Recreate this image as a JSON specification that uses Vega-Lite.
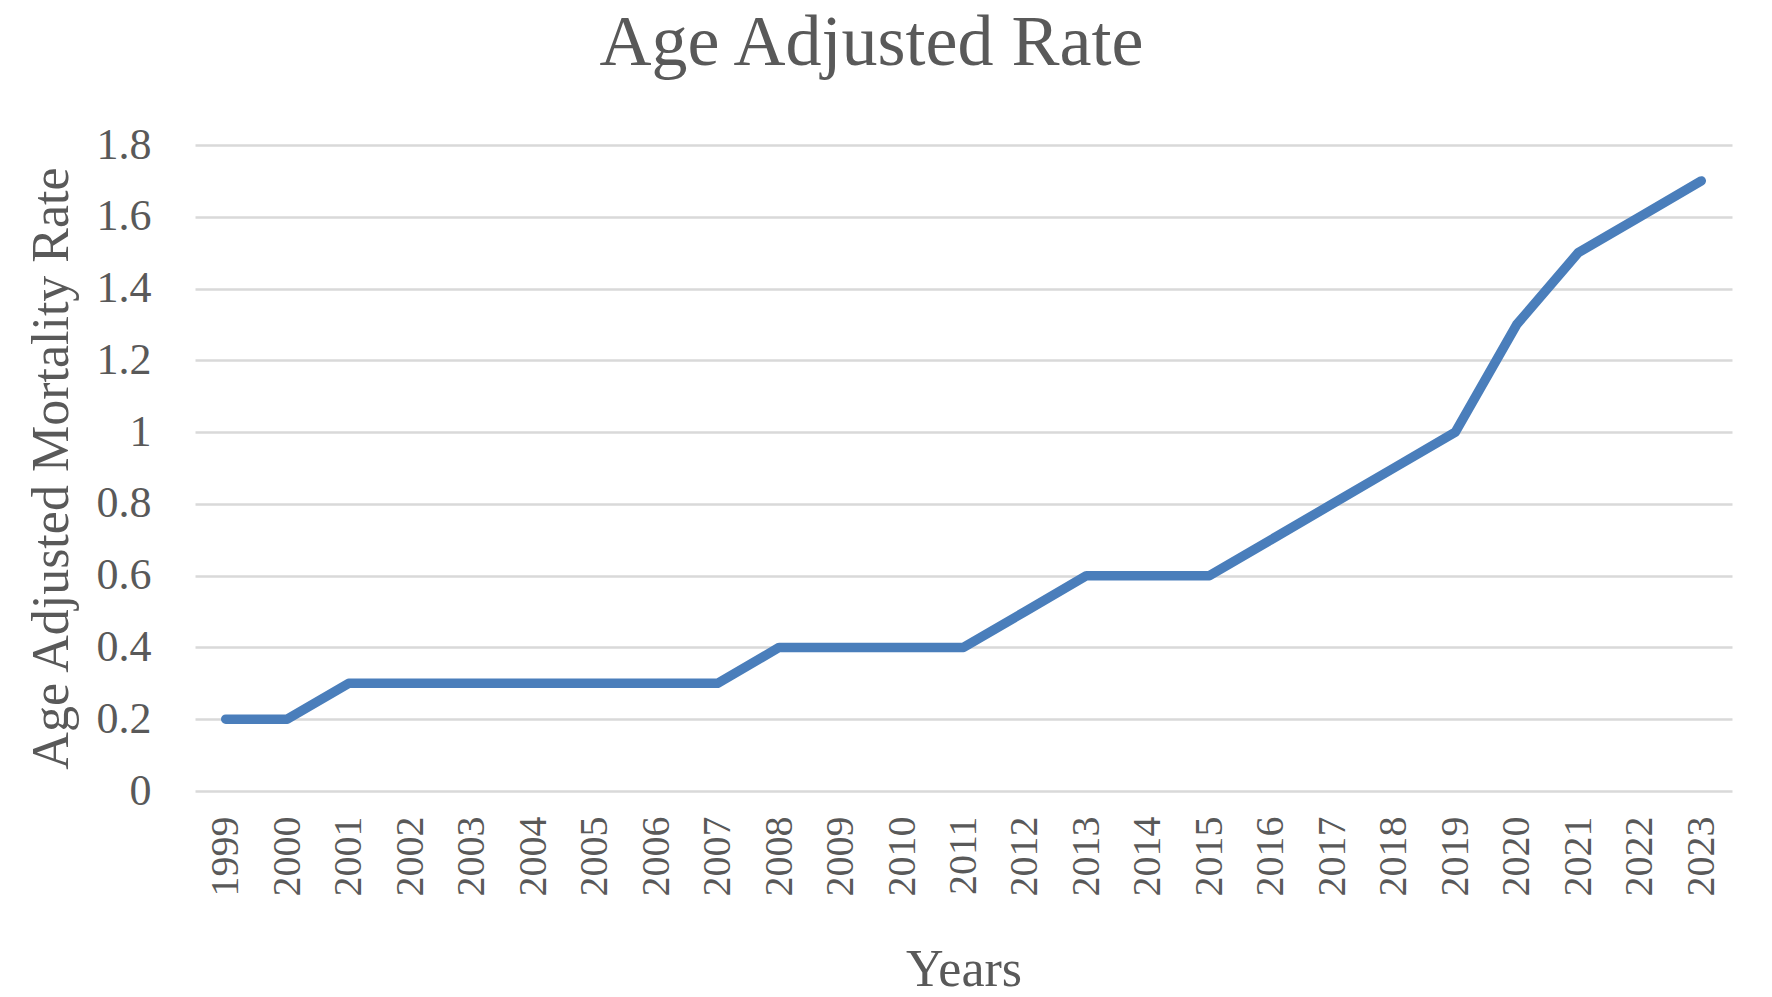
{
  "$schema": "https://vega.github.io/schema/vega-lite/v6.json",
  "autosize": "none",
  "width": 1537,
  "height": 646,
  "padding": {"left": 195, "top": 145, "right": 40, "bottom": 206},
  "background": "white",
  "title": {
    "text": "Age Adjusted Rate",
    "font": "Liberation Serif",
    "fontSize": 72,
    "fontWeight": "normal",
    "color": "#595959",
    "anchor": "middle",
    "frame": "bounds",
    "baseline": "alphabetic",
    "offset": -14,
    "dx": -7
  },
  "data": {
    "values": [
      {"year": "1999", "rate": 0.2},
      {"year": "2000", "rate": 0.2},
      {"year": "2001", "rate": 0.3},
      {"year": "2002", "rate": 0.3},
      {"year": "2003", "rate": 0.3},
      {"year": "2004", "rate": 0.3},
      {"year": "2005", "rate": 0.3},
      {"year": "2006", "rate": 0.3},
      {"year": "2007", "rate": 0.3},
      {"year": "2008", "rate": 0.4},
      {"year": "2009", "rate": 0.4},
      {"year": "2010", "rate": 0.4},
      {"year": "2011", "rate": 0.4},
      {"year": "2012", "rate": 0.5},
      {"year": "2013", "rate": 0.6},
      {"year": "2014", "rate": 0.6},
      {"year": "2015", "rate": 0.6},
      {"year": "2016", "rate": 0.7},
      {"year": "2017", "rate": 0.8},
      {"year": "2018", "rate": 0.9},
      {"year": "2019", "rate": 1.0},
      {"year": "2020", "rate": 1.3},
      {"year": "2021", "rate": 1.5},
      {"year": "2022", "rate": 1.6},
      {"year": "2023", "rate": 1.7}
    ]
  },
  "mark": {
    "type": "line",
    "color": "#4a7ebb",
    "strokeWidth": 9.5,
    "strokeCap": "round",
    "strokeJoin": "round"
  },
  "encoding": {
    "x": {
      "field": "year",
      "type": "ordinal",
      "title": "Years",
      "scale": {"type": "point", "padding": 0.5},
      "axis": {
        "labelAngle": -90,
        "labelPadding": 25,
        "ticks": false,
        "domain": false,
        "grid": false,
        "labelFont": "Liberation Serif",
        "labelFontSize": 40,
        "labelColor": "#595959",
        "titleFont": "Liberation Serif",
        "titleFontSize": 52,
        "titleFontWeight": "normal",
        "titleColor": "#595959",
        "titlePadding": 48
      }
    },
    "y": {
      "field": "rate",
      "type": "quantitative",
      "title": "Age Adjusted Mortality Rate",
      "scale": {"domain": [0, 1.8], "nice": false},
      "axis": {
        "values": [0, 0.2, 0.4, 0.6, 0.8, 1, 1.2, 1.4, 1.6, 1.8],
        "labelExpr": "datum.value === 0 ? '0' : (datum.value === 1 ? '1' : format(datum.value, '.1f'))",
        "ticks": false,
        "domain": false,
        "grid": true,
        "gridColor": "#d9d9d9",
        "gridWidth": 2.5,
        "labelPadding": 44,
        "labelFont": "Liberation Serif",
        "labelFontSize": 44,
        "labelColor": "#595959",
        "titleFont": "Liberation Serif",
        "titleFontSize": 52,
        "titleFontWeight": "normal",
        "titleColor": "#595959",
        "titlePadding": 18
      }
    }
  },
  "config": {
    "view": {"stroke": null}
  }
}
